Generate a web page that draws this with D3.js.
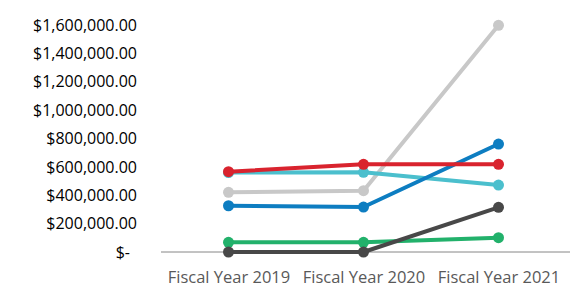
<!DOCTYPE html>
<html>
<head>
<meta charset="utf-8">
<script src="https://cdn.jsdelivr.net/npm/d3@7"></script>
<style>
  body { margin: 0; background: #fff; }
  svg { display: block; }
</style>
</head>
<body>
<div id="chart"></div>
<script>
const width = 570;
const height = 291;

// categories and series
const years = ["Fiscal Year 2019", "Fiscal Year 2020", "Fiscal Year 2021"];
const lightGray = [421000, 432000, 1598000];
const cyan = [560000, 562000, 472000];
const blue = [326000, 317000, 761000];
const red = [566000, 618000, 618000];
const green = [68000, 68000, 101000];
const darkGray = [0, 0, 315000];
const yTicks = [0, 200000, 400000, 600000, 800000, 1000000, 1200000, 1400000, 1600000];

// draw order, bottom to top
const series = [
  { name: "lightGray", values: lightGray, color: "#c8c8c8" },
  { name: "cyan", values: cyan, color: "#4bbfcd" },
  { name: "blue", values: blue, color: "#0d7dc1" },
  { name: "red", values: red, color: "#d9232e" },
  { name: "green", values: green, color: "#22b16b" },
  { name: "darkGray", values: darkGray, color: "#484848" }
];

const margin = { left: 161, right: 4, top: 25, bottom: 39 };

const svg = d3.select("#chart").append("svg")
  .attr("width", width)
  .attr("height", height);

const x = d3.scalePoint()
  .domain(years)
  .range([margin.left, width - margin.right])
  .padding(0.5);

const y = d3.scaleLinear()
  .domain([0, 1600000])
  .range([height - margin.bottom, margin.top]);

// y axis labels (no line)
const fmt = d3.format("$,.2f");
const yAxis = svg.append("g")
  .attr("transform", `translate(137,0)`)
  .call(d3.axisLeft(y).tickValues(yTicks).tickSize(0).tickPadding(0)
    .tickFormat(d => d === 0 ? "$-" : fmt(d)));
yAxis.select(".domain").remove();
yAxis.selectAll("text")
  .attr("font-family", "'Open Sans', sans-serif")
  .attr("font-size", 16)
  .attr("fill", "#000")
  .attr("dx", d => d === 0 ? -7 : 0);

// x axis baseline + labels
const xAxis = svg.append("g")
  .attr("transform", `translate(0,${y(0)})`)
  .call(d3.axisBottom(x).tickSize(0).tickPadding(19));
xAxis.select(".domain")
  .attr("stroke", "#868686")
  .attr("stroke-width", 1)
  .attr("d", `M${margin.left},0H${width}`);
xAxis.selectAll("text")
  .attr("font-family", "'Open Sans', sans-serif")
  .attr("font-size", 16.5)
  .attr("fill", "#595959");

const line = d3.line()
  .x((d, i) => x(years[i]))
  .y(d => y(d));

const g = svg.append("g");
series.forEach(s => {
  g.append("path")
    .attr("d", line(s.values))
    .attr("fill", "none")
    .attr("stroke", s.color)
    .attr("stroke-width", 4)
    .attr("stroke-linejoin", "round");
  g.selectAll(null)
    .data(s.values)
    .enter()
    .append("circle")
    .attr("cx", (d, i) => x(years[i]))
    .attr("cy", d => y(d))
    .attr("r", 5.5)
    .attr("fill", s.color);
});
</script>
</body>
</html>
